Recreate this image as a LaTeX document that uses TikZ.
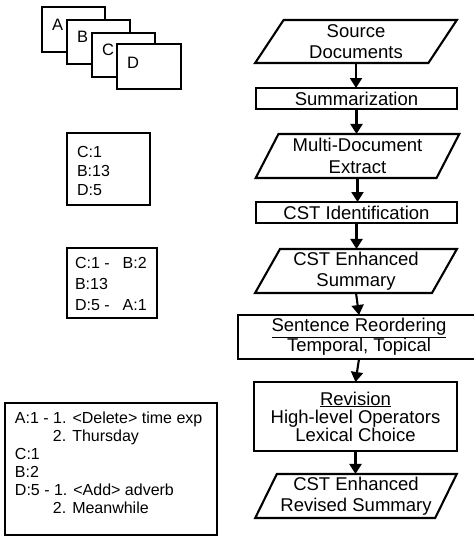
\documentclass[tikz,border=0pt]{standalone}
\usepackage{fontspec}
\setmainfont{Liberation Sans}
\usetikzlibrary{shapes.geometric,arrows.meta}

\newcommand\flowfont{\fontsize{18.5}{21.5}\selectfont}
\newcommand\boxfont{\fontsize{18.5}{18}\selectfont}
\newcommand\listfont{\fontsize{16}{19}\selectfont}
\newcommand\docfont{\fontsize{16.5}{19}\selectfont}

\begin{document}
\begin{tikzpicture}[x=1pt,y=-1pt,
  every node/.style={inner sep=0pt, outer sep=0pt},
  frame/.style={draw=black, line width=2.1pt},
  procbox/.style={frame, fill=white, rectangle, align=center, font=\boxfont},
  databox/.style={frame, fill=white, trapezium, trapezium left angle=62,
    trapezium right angle=118, trapezium stretches=true,
    align=center, font=\flowfont},
  docsheet/.style={frame, fill=white, rectangle},
  docletter/.style={anchor=base west, font=\docfont},
  listbox/.style={frame, rectangle},
  listtext/.style={anchor=base west, font=\listfont},
  flow/.style={line width=2.1pt, -{Triangle[width=12pt,length=10pt]}}]

\clip (0,0) rectangle (474,536);
\useasboundingbox (0,0) rectangle (474,536);

% stack of source documents
\node[docsheet, minimum width=63, minimum height=45] (docA) at (73.5,29.5) {};
\node[docletter] (ltrA) at ([shift={(10,23)}]docA.north west) {A};
\node[docsheet, minimum width=63, minimum height=44] (docB) at (98.5,42) {};
\node[docletter] (ltrB) at ([shift={(10,22)}]docB.north west) {B};
\node[docsheet, minimum width=63, minimum height=44] (docC) at (123.5,55) {};
\node[docletter] (ltrC) at ([shift={(10,22)}]docC.north west) {C};
\node[docsheet, minimum width=64, minimum height=45] (docD) at (149,66.5) {};
\node[docletter] (ltrD) at ([shift={(10,24)}]docD.north west) {D};

% sentence lists
\node[listbox, minimum width=83, minimum height=72] (selbox) at (108.5,169) {};
\node[listtext] (seltext) at (77,157)
  {\begin{tabular}[t]{@{}l@{}}C:1\\B:13\\D:5\end{tabular}};

\node[listbox, minimum width=90, minimum height=70] (pairbox) at (112,283) {};
\node[listtext, font=\fontsize{16}{21}\selectfont] (pairtext) at (75,268)
  {\begin{tabular}[t]{@{}l@{\hspace{13pt}}l@{}}C:1 -&B:2\\B:13&\\D:5 -&A:1\end{tabular}};

\node[listbox, minimum width=212, minimum height=132] (revbox) at (111,469) {};
\node[listtext, font=\fontsize{16}{18}\selectfont] (revtext) at (15,423)
  {\begin{tabular}[t]{@{}l@{}}
    A:1 - 1. <Delete> time exp\\
    \hspace*{38pt}2. Thursday\\
    C:1\\
    B:2\\
    D:5 - 1. <Add> adverb\\
    \hspace*{38pt}2. Meanwhile
  \end{tabular}};

% processing pipeline
\node[databox, minimum width=202, minimum height=43] (src) at (356,41.5) {Source\\Documents};
\node[procbox, minimum width=201, minimum height=21] (summ) at (356.5,98.5) {Summarization};
\node[databox, minimum width=204, minimum height=44] (mde) at (357.5,156) {Multi-Document\\Extract};
\node[procbox, minimum width=201, minimum height=21] (cstid) at (356.5,212.5) {CST Identification};
\node[databox, minimum width=202, minimum height=44] (cses) at (356,271) {CST Enhanced\\Summary};
\node[procbox, minimum width=242, minimum height=44] (reord) at (359,337)
  {\underline{Sentence Reordering}\\Temporal, Topical};
\node[procbox, minimum width=203, minimum height=69] (revis) at (355.5,416.5)
  {\underline{Revision}\\High-level Operators\\Lexical Choice};
\node[databox, minimum width=202, minimum height=44] (final) at (356,496)
  {CST Enhanced\\Revised Summary};

\draw[flow] (src.south) -- (src.south |- summ.north);
\draw[flow] (summ.south) -- (summ.south |- mde.north);
\draw[flow] (mde.south) -- (mde.south |- cstid.north);
\draw[flow] (cstid.south) -- (cstid.south |- cses.north);
\draw[flow] (cses.south) -- (reord.north);
\draw[flow] (reord.south) -- (revis.north);
\draw[flow] (revis.south) -- (revis.south |- final.north);
\end{tikzpicture}
\end{document}
